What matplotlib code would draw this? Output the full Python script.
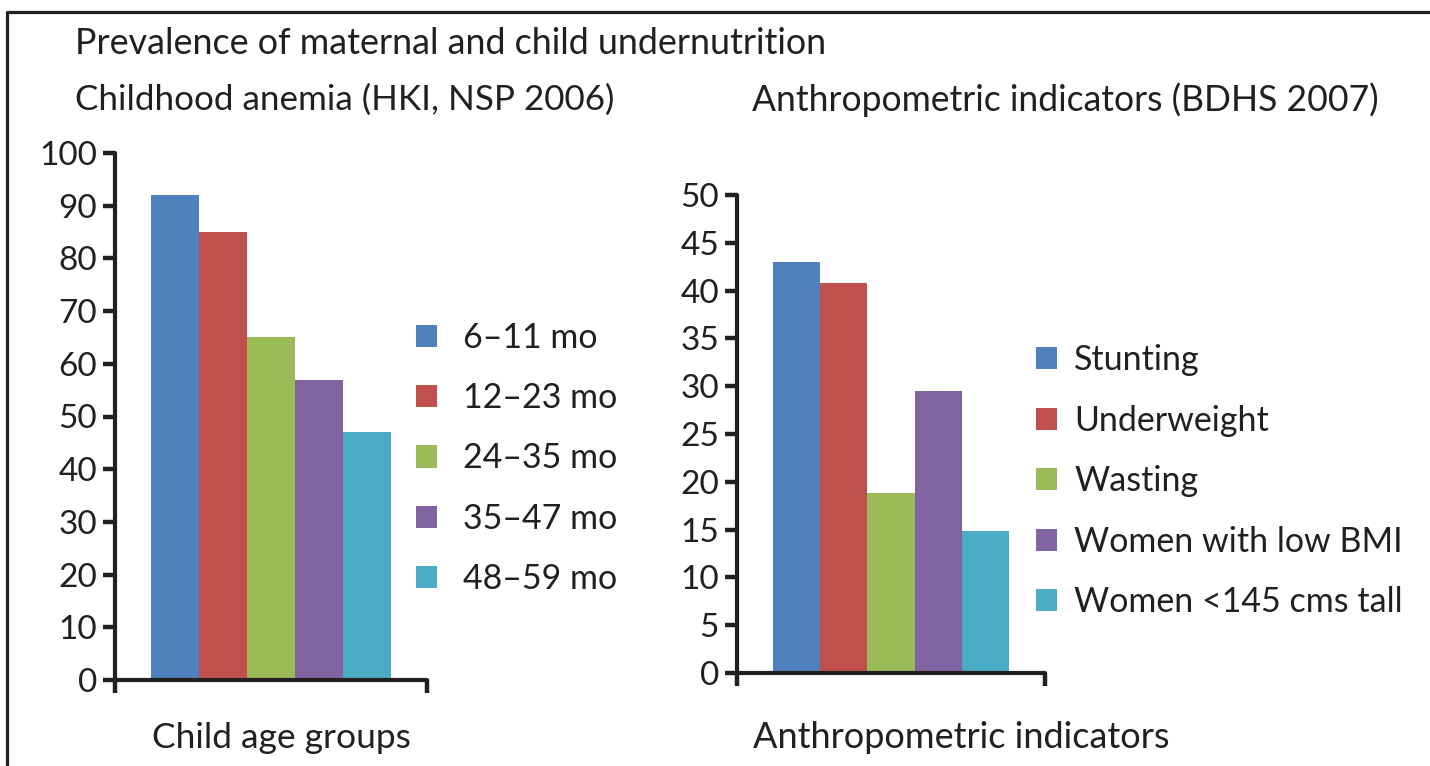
import matplotlib
matplotlib.use("Agg")
import matplotlib.pyplot as plt
from matplotlib.lines import Line2D

plt.rcParams['font.family'] = ['Lato', 'DejaVu Sans']

# data
age_groups = ['6–11 mo', '12–23 mo', '24–35 mo', '35–47 mo', '48–59 mo']
anemia = [92, 85, 65, 57, 47]

indicators = ['Stunting', 'Underweight', 'Wasting', 'Women with low BMI', 'Women <145 cms tall']
anthro = [43, 40.8, 18.8, 29.5, 14.9]

colors = ['#4F81BD', '#C0504D', '#9BBB59', '#8064A2', '#4BACC6']
ink = '#231f20'

W, H = 1430, 766
fig = plt.figure(figsize=(W / 100, H / 100), dpi=100)


def px_axes(x0, x1, ytop, ybot):
    return fig.add_axes([x0 / W, 1 - ybot / H, (x1 - x0) / W, (ybot - ytop) / H])


def bar_panel(ax, values, labels, ymax, step):
    n = len(values)
    group = 1 / 1.3  # excel gap width 30%
    w = group / n
    for i, (v, c, lab) in enumerate(zip(values, colors, labels)):
        ax.bar(-group / 2 + w * (i + 0.5), v, width=w, color=c, label=lab)
    ax.set_xlim(-0.5, 0.5)
    ax.set_ylim(0, ymax)
    ax.set_yticks(range(0, ymax + 1, step))
    ax.set_xticks([-0.5, 0.5])
    ax.set_xticklabels([])
    for s in ['top', 'right']:
        ax.spines[s].set_visible(False)
    for s in ['left', 'bottom']:
        ax.spines[s].set_linewidth(3)
        ax.spines[s].set_color(ink)
        ax.spines[s].set_capstyle('round')
    ax.tick_params(axis='y', direction='out', length=9, width=3.2, color=ink,
                   labelsize=24, labelcolor=ink, pad=4)
    ax.tick_params(axis='x', direction='out', length=9, width=3.2, color=ink)
    ax.set_facecolor('none')


ax1 = px_axes(115, 427, 153, 680)
bar_panel(ax1, anemia, age_groups, 100, 10)
ax1.legend(loc='upper left', bbox_to_anchor=(416 / W, 1 - 322 / H),
           bbox_transform=fig.transFigure, frameon=False, fontsize=24.5,
           handlelength=0.62, handleheight=0.62, handletextpad=0.75,
           labelspacing=0.83, borderpad=0, borderaxespad=0, labelcolor=ink)

ax2 = px_axes(737, 1045, 195, 673)
bar_panel(ax2, anthro, indicators, 50, 5)
ax2.legend(loc='upper left', bbox_to_anchor=(1036 / W, 1 - 344 / H),
           bbox_transform=fig.transFigure, frameon=False, fontsize=24.5,
           handlelength=0.62, handleheight=0.62, handletextpad=0.5,
           labelspacing=0.84, borderpad=0, borderaxespad=0, labelcolor=ink)

# titles
fig.text(75 / W, 1 - 44 / H, 'Prevalence of maternal and child undernutrition',
         fontsize=25.8, color=ink, va='center', ha='left')
fig.text(75 / W, 1 - 100 / H, 'Childhood anemia (HKI, NSP 2006)',
         fontsize=25.2, color=ink, va='center', ha='left')
fig.text(752 / W, 1 - 100 / H, 'Anthropometric indicators (BDHS 2007)',
         fontsize=25.6, color=ink, va='center', ha='left')
fig.text(281 / W, 1 - 738 / H, 'Child age groups',
         fontsize=25.5, color=ink, va='center', ha='center')
fig.text(961 / W, 1 - 738 / H, 'Anthropometric indicators',
         fontsize=26, color=ink, va='center', ha='center')

# outer frame (top and left edges)
fig.add_artist(Line2D([7 / W, 7 / W, 1], [0, 1 - 12 / H, 1 - 12 / H],
                      transform=fig.transFigure, color=ink, linewidth=2.3))

fig.savefig('out.png', dpi=100)
